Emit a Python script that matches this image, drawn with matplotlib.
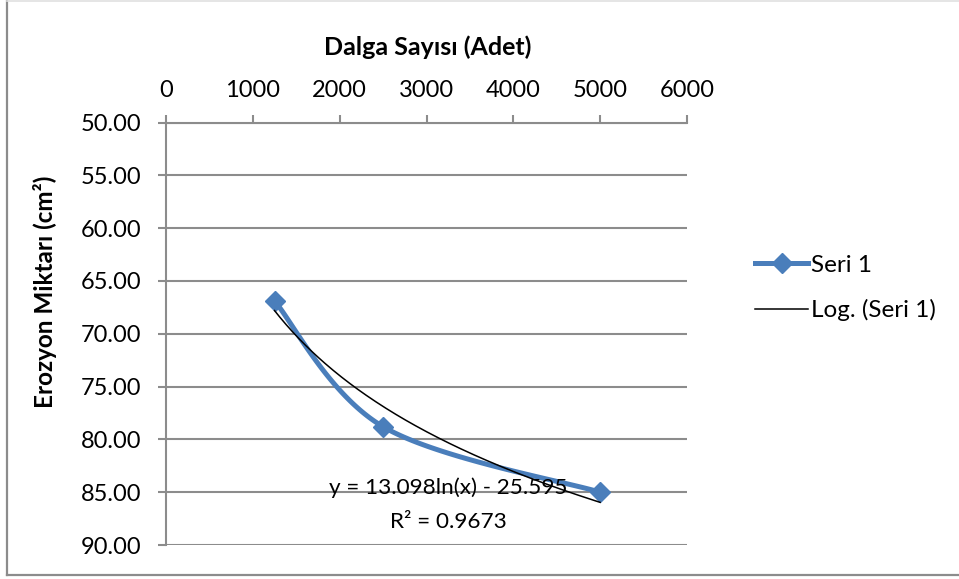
import numpy as np
import matplotlib
matplotlib.use("Agg")
import matplotlib.pyplot as plt
from matplotlib.lines import Line2D

plt.rcParams['font.family'] = ['Lato', 'DejaVu Sans']

# Data
dalga_sayisi = [1250, 2500, 5000]
erozyon = [66.9, 78.8, 85.0]
x_ticks = [0, 1000, 2000, 3000, 4000, 5000, 6000]
y_ticks = [50, 55, 60, 65, 70, 75, 80, 85, 90]
log_a = 13.098
log_b = -25.595
r_squared = 0.9673

BLUE = '#4A7EBB'
GRID = '#8C8C8C'
FS = 17


def smooth_bezier(xs, ys, n=60):
    """Smoothed polyline through the points (cubic Bezier segments, Catmull-Rom tangents)."""
    p = np.column_stack([xs, ys]).astype(float)
    out = []
    for i in range(len(p) - 1):
        p0 = p[i - 1] if i > 0 else p[i]
        p1, p2 = p[i], p[i + 1]
        p3 = p[i + 2] if i + 2 < len(p) else p[i + 1]
        c1 = p1 + (p2 - p0) / 6.0
        c2 = p2 - (p3 - p1) / 6.0
        t = np.linspace(0, 1, n)[:, None]
        seg = ((1 - t) ** 3) * p1 + 3 * ((1 - t) ** 2) * t * c1 + 3 * (1 - t) * t ** 2 * c2 + t ** 3 * p2
        out.append(seg if i == 0 else seg[1:])
    s = np.vstack(out)
    return s[:, 0], s[:, 1]


fig = plt.figure(figsize=(9.59, 5.79), dpi=100)

# Chart frame
fig.add_artist(Line2D([7 / 959, 7 / 959], [4 / 579, 1.0], transform=fig.transFigure, color='#8C8C8C', lw=1.6))
fig.add_artist(Line2D([7 / 959, 1.0], [4 / 579, 4 / 579], transform=fig.transFigure, color='#8C8C8C', lw=1.6))
fig.add_artist(Line2D([7 / 959, 1.0], [0.999, 0.999], transform=fig.transFigure, color='#E0E0E0', lw=1.2))

ax = fig.add_axes([166 / 959, 34 / 579, 521 / 959, 422.5 / 579])
ax.set_xlim(0, 6000)
ax.set_ylim(90, 50)

ax.xaxis.tick_top()
ax.set_xticks(x_ticks)
ax.set_yticks(y_ticks)
ax.set_xticklabels([str(v) for v in x_ticks])
ax.set_yticklabels([f"{v:.2f}" for v in y_ticks])
ax.tick_params(axis='both', labelsize=FS, colors=GRID, labelcolor='black', width=1.5, length=5.8)
ax.tick_params(axis='x', pad=10)
ax.tick_params(axis='y', pad=12)

for side in ['bottom', 'right']:
    ax.spines[side].set_visible(False)
for side in ['top', 'left']:
    ax.spines[side].set_color(GRID)
    ax.spines[side].set_linewidth(1.5)

ax.yaxis.grid(True, color=GRID, lw=1.5)
ax.set_axisbelow(True)

# Axis titles
fig.text(428 / 959, 1 - 47 / 579, 'Dalga Sayısı (Adet)', fontsize=18, fontweight='bold',
         ha='center', va='center')
fig.text(45 / 959, 1 - 292 / 579, 'Erozyon Miktarı (cm²)', fontsize=17.5, fontweight='bold',
         ha='center', va='center', rotation=90)

# Series with smoothed line
sx, sy = smooth_bezier(dalga_sayisi, erozyon)
ax.plot(sx, sy, color=BLUE, lw=3.6, solid_capstyle='round', zorder=3)
ax.plot(dalga_sayisi, erozyon, linestyle='none', marker='D', ms=10, color=BLUE, zorder=4)

# Logarithmic trendline
tx = np.linspace(dalga_sayisi[0], dalga_sayisi[-1], 200)
ty = log_a * np.log(tx) + log_b
ax.plot(tx, ty, color='black', lw=1.1, zorder=5)

ax.text(3250, 84.6, f"y = {log_a:.3f}ln(x) - {abs(log_b):.3f}",
        ha='center', va='center', fontsize=16.2, zorder=6)
ax.text(3250, 87.8, f"R² = {r_squared:.4f}",
        ha='center', va='center', fontsize=16.2, zorder=6)

# Legend
handles = [Line2D([], [], color=BLUE, lw=3.6, marker='D', ms=10),
           Line2D([], [], color='black', lw=1.1)]
fig.legend(handles, ['Seri 1', 'Log. (Seri 1)'], loc='center left',
           bbox_to_anchor=(733 / 959, 1 - 288 / 579), frameon=False, fontsize=17.5,
           handlelength=2.2, handletextpad=0.1, labelspacing=0.95)

fig.savefig('out.png', dpi=100)
